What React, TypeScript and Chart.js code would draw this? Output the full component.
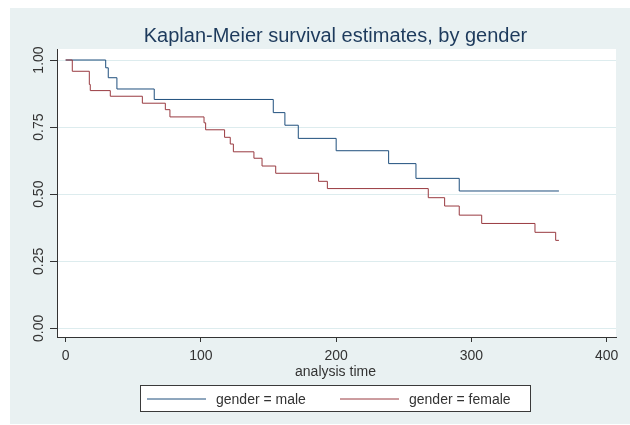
import React, { useEffect, useRef } from 'react';
import { Chart, registerables } from 'chart.js';

Chart.register(...registerables);

const titleText = 'Kaplan-Meier survival estimates, by gender';
const xAxisTitle = 'analysis time';
const xTickValues = [0, 100, 200, 300, 400];
const yTickValues = [0, 0.25, 0.5, 0.75, 1];
const seriesLabels = ['gender = male', 'gender = female'];

const maleTimes = [0, 29.6, 31.5, 37.9, 65.5, 153.5, 162.1, 172, 200, 238.8, 259, 291, 364.7];
const maleSurvival = [1, 0.971, 0.934, 0.892, 0.853, 0.804, 0.757, 0.708, 0.662, 0.614, 0.559, 0.512, 0.512];

const femaleTimes = [0, 4.9, 17.5, 18.2, 33, 56.7, 73.7, 77.1, 102.3, 103.5, 117.5, 121.7, 124, 139.2, 145.2, 155.3, 187, 193.5, 268.1, 280.2, 291, 307.6, 347, 362.3, 364.7];
const femaleSurvival = [1, 0.958, 0.909, 0.886, 0.865, 0.839, 0.815, 0.788, 0.766, 0.74, 0.712, 0.687, 0.658, 0.634, 0.605, 0.578, 0.548, 0.521, 0.487, 0.456, 0.422, 0.391, 0.358, 0.328, 0.328];

const MALE_COLOR = '#1f4f7d';
const FEMALE_COLOR = '#993a40';
const BG = '#e9f1f2';
const AXIS = '#333333';
const FONT = '"Liberation Sans", Arial, sans-serif';

const decorPlugin = {
  id: 'decor',
  beforeDraw(chart: any) {
    const { ctx, chartArea: a, width, height } = chart;
    ctx.save();
    ctx.fillStyle = '#ffffff';
    ctx.fillRect(0, 0, width, height);
    ctx.fillStyle = BG;
    ctx.fillRect(10, 8, width - 10, height - 9);
    ctx.fillStyle = '#ffffff';
    ctx.fillRect(a.left, a.top, a.right - a.left, a.bottom - a.top);
    ctx.restore();
  },
  afterDraw(chart: any) {
    const { ctx, scales } = chart;
    const y = scales.y;
    ctx.save();
    // title
    ctx.fillStyle = '#1d3a5c';
    ctx.font = `20px ${FONT}`;
    ctx.textAlign = 'center';
    ctx.textBaseline = 'alphabetic';
    ctx.fillText(titleText, 335.5, 41.5);
    // y tick labels (rotated)
    ctx.fillStyle = AXIS;
    ctx.font = `14px ${FONT}`;
    yTickValues.forEach((v) => {
      const py = y.getPixelForValue(v);
      ctx.save();
      ctx.translate(42.5, py);
      ctx.rotate(-Math.PI / 2);
      ctx.textAlign = 'center';
      ctx.textBaseline = 'alphabetic';
      ctx.fillText(v.toFixed(2), 0, 0);
      ctx.restore();
    });
    // x axis title
    ctx.textAlign = 'center';
    ctx.fillText(xAxisTitle, 335.5, 376);
    // legend
    ctx.fillStyle = '#ffffff';
    ctx.fillRect(140.5, 385.5, 390, 26);
    ctx.strokeStyle = '#3a3a3a';
    ctx.lineWidth = 1;
    ctx.strokeRect(140.5, 385.5, 390, 26);
    const items = [
      { color: MALE_COLOR, x0: 147, x1: 206, tx: 216 },
      { color: FEMALE_COLOR, x0: 340, x1: 399, tx: 409 },
    ];
    items.forEach((it, i) => {
      ctx.strokeStyle = it.color;
      ctx.beginPath();
      ctx.moveTo(it.x0, 399);
      ctx.lineTo(it.x1, 399);
      ctx.stroke();
      ctx.fillStyle = AXIS;
      ctx.textAlign = 'left';
      ctx.fillText(seriesLabels[i], it.tx, 404);
    });
    ctx.restore();
  },
};

export default function App() {
  const ref = useRef<HTMLCanvasElement>(null);
  useEffect(() => {
    if (!ref.current) return;
    const chart = new Chart(ref.current, {
      type: 'line',
      data: {
        datasets: [
          {
            label: seriesLabels[0],
            data: maleTimes.map((t, i) => ({ x: t, y: maleSurvival[i] })),
            borderColor: MALE_COLOR,
            borderWidth: 1,
            stepped: true,
            pointRadius: 0,
            fill: false,
            order: 1,
          },
          {
            label: seriesLabels[1],
            data: femaleTimes.map((t, i) => ({ x: t, y: femaleSurvival[i] })),
            borderColor: FEMALE_COLOR,
            borderWidth: 1,
            stepped: true,
            pointRadius: 0,
            fill: false,
            order: 0,
          },
        ],
      },
      plugins: [decorPlugin],
      options: {
        animation: false,
        responsive: false,
        devicePixelRatio: 1,
        events: [],
        layout: { padding: { top: 49, right: 14, left: 0, bottom: 0 } },
        plugins: {
          legend: { display: false },
          tooltip: { enabled: false },
          title: { display: false },
        },
        scales: {
          x: {
            type: 'linear',
            position: 'bottom',
            min: -6.4,
            max: 406.9,
            afterBuildTicks: (s: any) => {
              s.ticks = xTickValues.map((v) => ({ value: v }));
            },
            afterFit: (s: any) => {
              s.height = 88;
            },
            ticks: {
              color: AXIS,
              font: { family: FONT, size: 14 },
              padding: 6,
              maxRotation: 0,
              minRotation: 0,
              callback: (v: any) => String(v),
            },
            grid: {
              drawOnChartArea: false,
              drawTicks: true,
              tickLength: 5,
              tickColor: AXIS,
              tickWidth: 1,
            },
            border: { display: true, color: AXIS, width: 1 },
          },
          y: {
            type: 'linear',
            position: 'left',
            min: -0.032,
            max: 1.041,
            afterBuildTicks: (s: any) => {
              s.ticks = yTickValues.map((v) => ({ value: v }));
            },
            afterFit: (s: any) => {
              s.width = 57;
            },
            ticks: { display: false },
            grid: {
              drawOnChartArea: true,
              color: '#ddecee',
              lineWidth: 1,
              drawTicks: true,
              tickLength: 7,
              tickColor: AXIS,
              tickWidth: 1,
            },
            border: { display: true, color: AXIS, width: 1 },
          },
        },
      },
    });
    return () => chart.destroy();
  }, []);
  return (
    <div style={{ position: 'absolute', left: 0, top: 0, width: 630, height: 425 }}>
      <canvas ref={ref} width={630} height={425} style={{ width: 630, height: 425, display: 'block' }} />
    </div>
  );
}
